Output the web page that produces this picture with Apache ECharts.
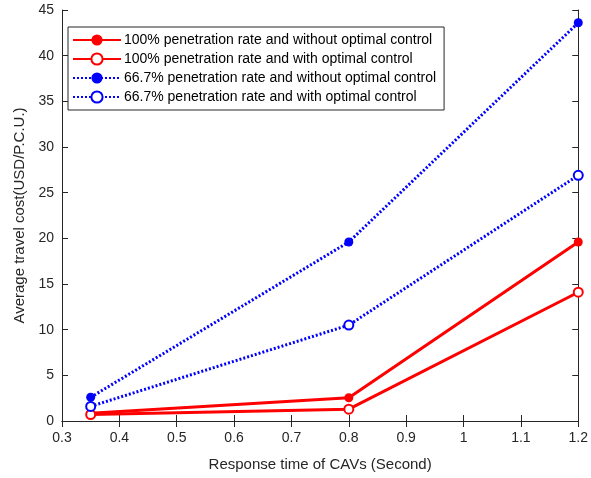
<!DOCTYPE html>
<html>
<head>
<meta charset="utf-8">
<script src="https://cdn.jsdelivr.net/npm/echarts@6/dist/echarts.min.js"></script>
<style>
html,body{margin:0;padding:0;background:#fff;}
#chart{width:591px;height:478px;}
</style>
</head>
<body>
<div id="chart"></div>
<script>
var responseTimes = [0.35, 0.8, 1.2];
var full_noCtrl = [0.85, 2.55, 19.6];
var full_ctrl = [0.7, 1.3, 14.1];
var part_noCtrl = [2.6, 19.6, 43.6];
var part_ctrl = [1.6, 10.5, 26.9];
var seriesNames = [
  '100% penetration rate and without optimal control',
  '100% penetration rate and with optimal control',
  '66.7% penetration rate and without optimal control',
  '66.7% penetration rate and with optimal control'
];

function pts(vals) {
  return responseTimes.map(function (t, i) { return [t, vals[i]]; });
}

var chart = echarts.init(document.getElementById('chart'));
var font = 'Liberation Sans, Arial, sans-serif';

function mkSeries(name, vals, color, dotted, open) {
  return {
    name: name,
    type: 'line',
    data: pts(vals),
    xAxisIndex: 0,
    yAxisIndex: 0,
    symbol: open ? 'emptyCircle' : 'circle',
    symbolSize: open ? 9 : 9,
    lineStyle: { color: color, width: 3, type: dotted ? [2, 2] : 'solid' },
    itemStyle: { color: color, borderColor: color, borderWidth: open ? 2.5 : 0 },
    emphasis: { disabled: true },
    z: dotted ? 3 : 2
  };
}

var option = {
  backgroundColor: '#fff',
  animation: false,
  grid: { left: 62, right: 11, top: 10, bottom: 57 },
  legend: {
    orient: 'vertical',
    left: 68,
    top: 27,
    itemWidth: 48,
    itemHeight: 14,
    itemGap: 5,
    padding: [6, 8, 6, 4],
    backgroundColor: '#fff',
    borderColor: '#262626',
    borderWidth: 1,
    borderRadius: 0,
    textStyle: { fontFamily: font, fontSize: 14, color: '#000', padding: [0, 0, 0, -2] },
    data: seriesNames
  },
  xAxis: [{
    type: 'value', min: 0.3, max: 1.2, interval: 0.1,
    name: 'Response time of CAVs (Second)',
    nameLocation: 'middle', nameGap: 36,
    nameTextStyle: { fontFamily: font, fontSize: 15, color: '#262626' },
    axisLine: { lineStyle: { color: '#262626', width: 1 } },
    axisTick: { inside: true, length: 6, lineStyle: { color: '#262626' } },
    axisLabel: { fontFamily: font, fontSize: 14, color: '#262626', margin: 10,
      formatter: function (v) { return String(Math.round(v * 10) / 10); } },
    splitLine: { show: false }
  }, {
    type: 'value', min: 0.3, max: 1.2, interval: 0.1, position: 'top',
    axisLine: { show: true, lineStyle: { color: '#262626', width: 1 } },
    axisTick: { inside: true, length: 6, lineStyle: { color: '#262626' } },
    axisLabel: { show: false },
    splitLine: { show: false }
  }],
  yAxis: [{
    type: 'value', min: 0, max: 45, interval: 5,
    name: 'Average travel cost(USD/P.C.U.)',
    nameLocation: 'middle', nameGap: 34,
    nameTextStyle: { fontFamily: font, fontSize: 15, color: '#262626' },
    axisLine: { show: true, lineStyle: { color: '#262626', width: 1 } },
    axisTick: { show: true, inside: true, length: 6, lineStyle: { color: '#262626' } },
    axisLabel: { fontFamily: font, fontSize: 14, color: '#262626', margin: 8 },
    splitLine: { show: false }
  }, {
    type: 'value', min: 0, max: 45, interval: 5, position: 'right',
    axisLine: { show: true, lineStyle: { color: '#262626', width: 1 } },
    axisTick: { show: true, inside: true, length: 6, lineStyle: { color: '#262626' } },
    axisLabel: { show: false },
    splitLine: { show: false }
  }],
  series: [
    mkSeries(seriesNames[0], full_noCtrl, '#ff0000', false, false),
    mkSeries(seriesNames[1], full_ctrl, '#ff0000', false, true),
    mkSeries(seriesNames[2], part_noCtrl, '#0000ff', true, false),
    mkSeries(seriesNames[3], part_ctrl, '#0000ff', true, true)
  ]
};
chart.setOption(option);
</script>
</body>
</html>
